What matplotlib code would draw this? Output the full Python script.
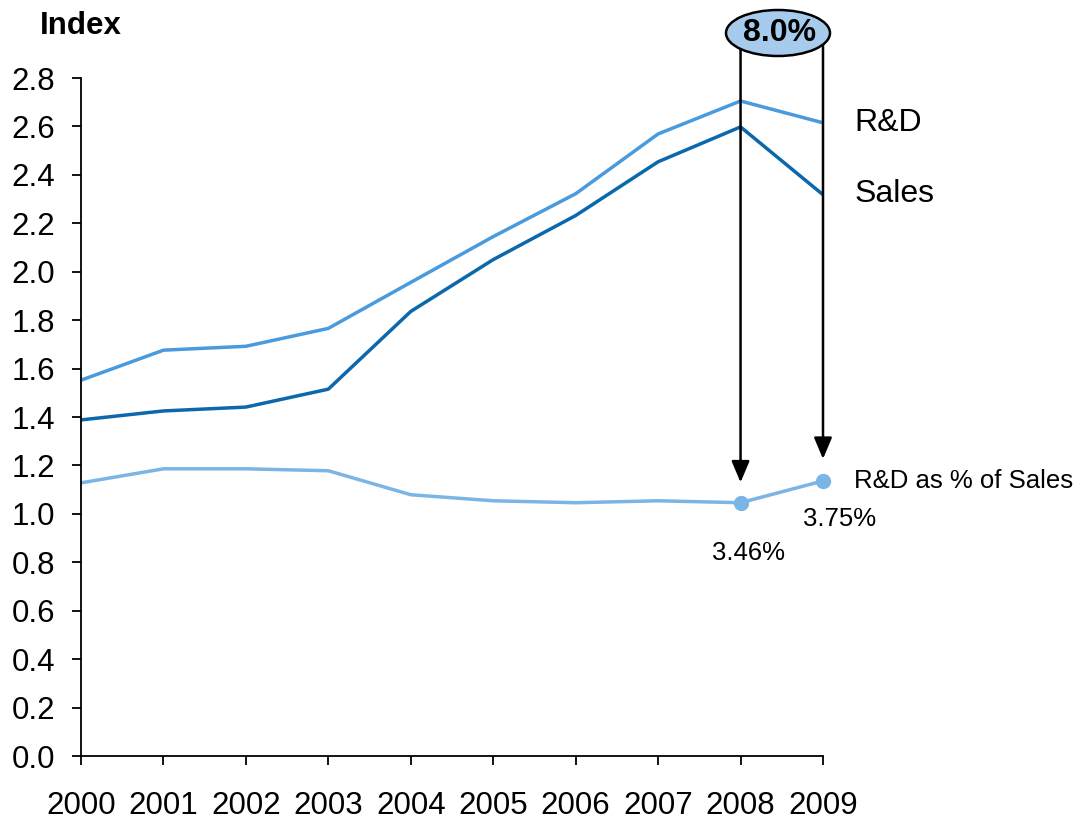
import matplotlib
matplotlib.use("Agg")
import matplotlib.pyplot as plt
from matplotlib.patches import Ellipse

plt.rcParams['font.family'] = ['Liberation Sans', 'DejaVu Sans']

years = [2000, 2001, 2002, 2003, 2004, 2005, 2006, 2007, 2008, 2009]
rd = [1.552, 1.676, 1.692, 1.766, 1.956, 2.145, 2.322, 2.569, 2.705, 2.615]
sales = [1.388, 1.425, 1.441, 1.515, 1.836, 2.050, 2.232, 2.454, 2.598, 2.318]
rd_pct = [1.128, 1.186, 1.186, 1.178, 1.079, 1.054, 1.046, 1.054, 1.046, 1.136]
yticks = [0.0, 0.2, 0.4, 0.6, 0.8, 1.0, 1.2, 1.4, 1.6, 1.8, 2.0, 2.2, 2.4, 2.6, 2.8]
pct_labels = ["3.46%", "3.75%"]
growth_label = "8.0%"

c_rd = '#4a9ade'
c_sales = '#0b68ad'
c_pct = '#7ab5e6'

fig = plt.figure(figsize=(10.82, 8.21), dpi=100)
ax = fig.add_axes([81/1082, 1-756/821, (823-81)/1082, (756-78)/821])

ax.plot(years, rd, color=c_rd, lw=2.5, solid_capstyle='butt', clip_on=False)
ax.plot(years, sales, color=c_sales, lw=2.5, solid_capstyle='butt', clip_on=False)
ax.plot(years, rd_pct, color=c_pct, lw=2.5, solid_capstyle='butt', clip_on=False)
ax.plot(years[-2:], rd_pct[-2:], 'o', color=c_pct, ms=10, clip_on=False, zorder=5)

ax.set_xlim(2000, 2009)
ax.set_ylim(0, 2.8)
ax.set_xticks(years)
ax.set_xticklabels([str(y) for y in years])
ax.set_yticks(yticks)
ax.set_yticklabels([f"{v:.1f}" for v in yticks])
ax.tick_params(axis='both', direction='out', length=6.5, width=1.3, labelsize=22.5, colors='black')
ax.tick_params(axis='x', pad=19)
ax.tick_params(axis='y', pad=12)
for s in ['top', 'right']:
    ax.spines[s].set_visible(False)
for s in ['left', 'bottom']:
    ax.spines[s].set_linewidth(1.3)

# arrows
top_y = (756-45)/242.1
for x, tip in [(2008, 1.13), (2009, 1.227)]:
    ax.annotate('', xy=(x, tip), xytext=(x, top_y), xycoords='data', textcoords='data',
                arrowprops=dict(arrowstyle='-|>,head_length=1.3,head_width=0.55', color='black', lw=1.8,
                                shrinkA=0, shrinkB=0), annotation_clip=False)

ell = Ellipse((778/1082, 1-33/821), 104/1082, 46/821, transform=fig.transFigure,
              facecolor='#a6cbec', edgecolor='black', lw=1.8, zorder=10)
fig.patches.append(ell)
fig.text(780/1082, 1-33/821, growth_label, ha='center', va='center', fontsize=23,
         fontweight='bold', zorder=11)

fig.text(40/1082, 1-26/821, 'Index', ha='left', va='center', fontsize=22.5, fontweight='bold')

ax.text(2009.38, 2.615, 'R&D', ha='left', va='center', fontsize=23)
ax.text(2009.38, 2.32, 'Sales', ha='left', va='center', fontsize=23)
ax.text(2009.38, 1.136, 'R&D as % of Sales', ha='left', va='center', fontsize=18.5)
ax.text(2009.2, 0.98, pct_labels[1], ha='center', va='center', fontsize=18.5)
ax.text(2008.1, 0.84, pct_labels[0], ha='center', va='center', fontsize=18.5)

fig.savefig('out.png', dpi=100)
